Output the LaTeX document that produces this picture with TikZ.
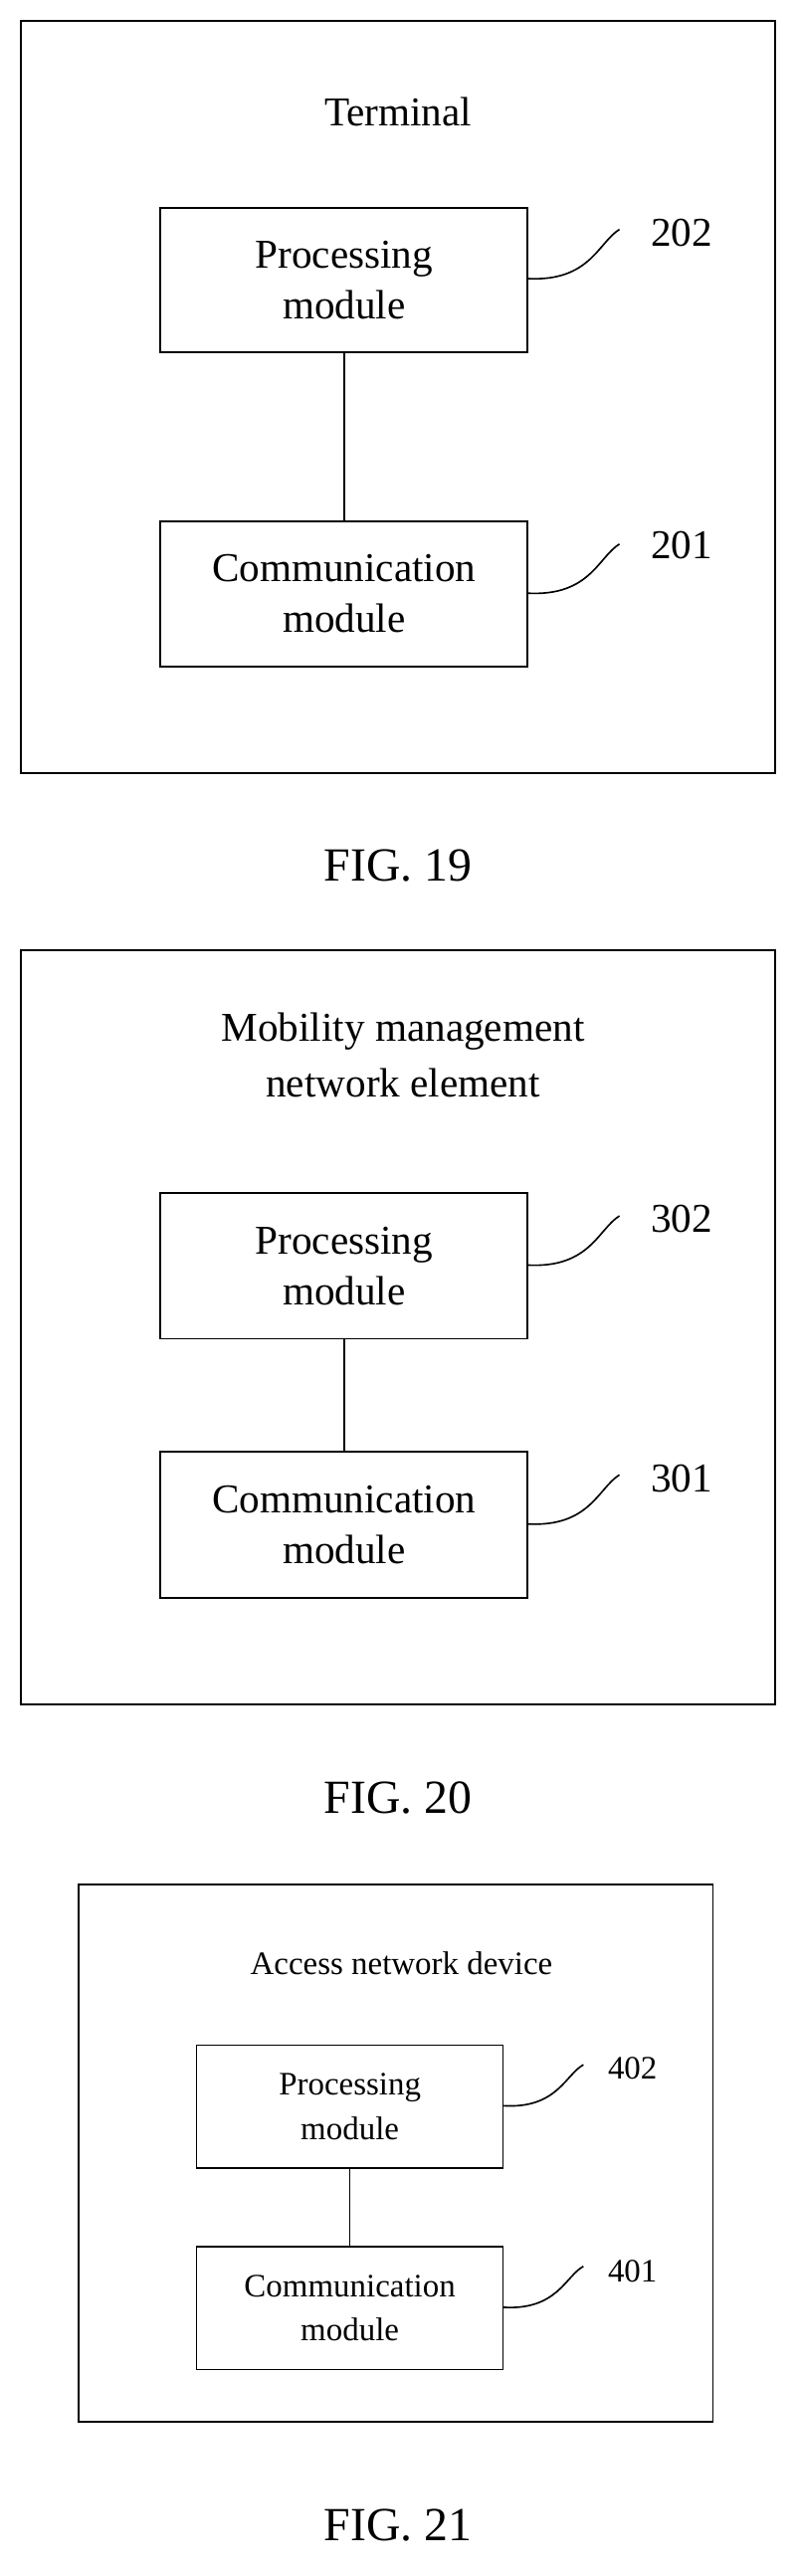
\documentclass[tikz,border=0pt]{standalone}
\usepackage{fontspec}
\setmainfont{Liberation Serif}
\begin{document}
\begin{tikzpicture}[x=1pt,y=-1pt,
 box/.style={draw,line width=1.2pt,inner sep=0},
 mod/.style={draw,line width=1.1pt,align=center,font=\fontsize{25}{31}\selectfont},
 smod/.style={draw,line width=1pt,align=center,font=\fontsize{20}{27}\selectfont},
 txt/.style={font=\fontsize{25}{34}\selectfont,align=center},
 stxt/.style={font=\fontsize{20}{27}\selectfont},
 fig/.style={font=\fontsize{29}{34}\selectfont},
 lead/.style={line width=1pt}]
\useasboundingbox (0,0) rectangle (487,1572);
% FIG 19
\draw[line width=1.2pt] (13,13) rectangle (473,472);
\node[txt] (t1) at (243,68) {Terminal};
\node[mod,minimum width=224pt,minimum height=88pt] (p1) at (210,171) {Processing\\module};
\node[mod,minimum width=224pt,minimum height=89pt] (c1) at (210,362.5) {Communication\\module};
\draw[line width=1.1pt] (p1) -- (c1);
\node[txt] (l202) at (416,142) {202};
\node[txt] (l201) at (416,333) {201};
\coordinate (a1) at (322,170); \coordinate (b1) at (378,140);
\coordinate (a2) at (322,362); \coordinate (b2) at (378,332);
\draw[lead] (a1) .. controls (360,172) and (365,148) .. (b1);
\draw[lead] (a2) .. controls (360,364) and (365,340) .. (b2);
\node[fig] (f19) at (243,528) {FIG. 19};
% FIG 20
\draw[line width=1.2pt] (13,580) rectangle (473,1040);
\node[txt] (t2) at (246,644) {Mobility management\\network element};
\node[mod,minimum width=224pt,minimum height=89pt] (p2) at (210,772.5) {Processing\\module};
\node[mod,minimum width=224pt,minimum height=89pt] (c2) at (210,930.5) {Communication\\module};
\draw[line width=1.1pt] (p2) -- (c2);
\node[txt] (l302) at (416,744) {302};
\node[txt] (l301) at (416,902) {301};
\coordinate (a3) at (322,772); \coordinate (b3) at (378,742);
\coordinate (a4) at (322,930); \coordinate (b4) at (378,900);
\draw[lead] (a3) .. controls (360,774) and (365,750) .. (b3);
\draw[lead] (a4) .. controls (360,932) and (365,908) .. (b4);
\node[fig] (f20) at (243,1097) {FIG. 20};
% FIG 21
\draw[line width=1pt] (48,1150) rectangle (435,1478);
\node[stxt] (t3) at (245,1198) {Access network device};
\node[smod,minimum width=187pt,minimum height=75pt] (p3) at (213.5,1285.5) {Processing\\module};
\node[smod,minimum width=187pt,minimum height=75pt] (c3) at (213.5,1408.5) {Communication\\module};
\draw[line width=1pt] (p3) -- (c3);
\node[stxt] (l402) at (386,1262) {402};
\node[stxt] (l401) at (386,1386) {401};
\coordinate (a5) at (307,1285); \coordinate (b5) at (356,1260);
\coordinate (a6) at (307,1408); \coordinate (b6) at (356,1383);
\draw[lead] (a5) .. controls (340,1287) and (345,1266) .. (b5);
\draw[lead] (a6) .. controls (340,1410) and (345,1389) .. (b6);
\node[fig] (f21) at (243,1541) {FIG. 21};
\end{tikzpicture}
\end{document}
